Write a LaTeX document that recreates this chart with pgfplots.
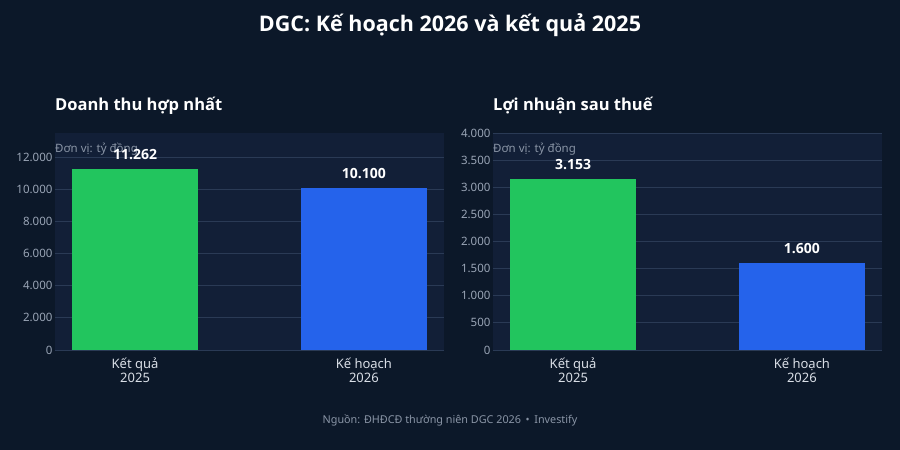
\documentclass[border=0pt]{standalone}
\usepackage{fontspec}
\setmainfont{Noto Sans}
\newfontfamily\boldsans{Open Sans}
\usepackage{pgfplots}
\pgfplotsset{compat=1.18}

\definecolor{pagebg}{HTML}{0C1829}
\definecolor{plotbg}{HTML}{121F37}
\definecolor{gridc}{HTML}{2A3A55}
\definecolor{tickc}{HTML}{9AA5B6}
\definecolor{xlabc}{HTML}{D9DEE6}
\definecolor{unitc}{HTML}{8A95A6}
\definecolor{kq}{HTML}{22C55E}
\definecolor{kh}{HTML}{2563EB}

\pgfplotsset{
  panel/.style={
    scale only axis,
    width=389pt, height=217pt,
    anchor=south west,
    xmin=-0.35, xmax=1.35,
    ymin=0,
    xtick={0,1},
    xticklabels={{Kết quả\\2025},{Kế hoạch\\2026}},
    xticklabel style={align=center, text=xlabc, font=\fontsize{13}{14}\selectfont, yshift=-4pt},
    yticklabel style={text=tickc, font=\fontsize{11.5}{12}\selectfont, xshift=1pt},
    scaled y ticks=false,
    /pgf/number format/.cd, 1000 sep={.}, assume math mode=true, /pgfplots/.cd,
    ymajorgrids,
    grid style={gridc, line width=0.8pt},
    axis line style={draw=none},
    major tick length=0pt,
    axis background/.style={fill=plotbg},
    ybar, bar shift=0pt, bar width=0.55,
    nodes near coords,
    every node near coord/.append style={text=white, font=\boldsans\bfseries\fontsize{14}{15}\selectfont, anchor=south, inner sep=0pt, yshift=9pt},
    title style={at={(0,1)}, anchor=base west, inner sep=0pt, yshift=16pt, text=white, font=\boldsans\bfseries\fontsize{16.5}{18}\selectfont},
  },
}

\begin{document}
\begin{tikzpicture}
\fill[pagebg] (0,0) rectangle (900pt,450pt);

\begin{axis}[panel, at={(55pt,100pt)}, ymax=13515,
  ytick={0,2000,4000,6000,8000,10000,12000},
  title={Doanh thu hợp nhất}]
  \addplot[draw=none, fill=kq] coordinates {(0,11262)};
  \addplot[draw=none, fill=kh] coordinates {(1,10100)};
  \node[anchor=base west, inner sep=0pt, text=unitc, font=\fontsize{11.5}{12}\selectfont] at (rel axis cs:0,1) [yshift=-20pt] {Đơn vị: tỷ đồng};
\end{axis}

\begin{axis}[panel, at={(493pt,100pt)}, ymax=4000,
  ytick={0,500,1000,1500,2000,2500,3000,3500,4000},
  title={Lợi nhuận sau thuế}]
  \addplot[draw=none, fill=kq] coordinates {(0,3153)};
  \addplot[draw=none, fill=kh] coordinates {(1,1600)};
  \node[anchor=base west, inner sep=0pt, text=unitc, font=\fontsize{11.5}{12}\selectfont] at (rel axis cs:0,1) [yshift=-20pt] {Đơn vị: tỷ đồng};
\end{axis}

\node[anchor=base, text=white, font=\boldsans\bfseries\fontsize{21.5}{24}\selectfont] at (450pt,418pt) {DGC: Kế hoạch 2026 và kết quả 2025};
\node[anchor=base, text=unitc, font=\fontsize{10.8}{12}\selectfont] at (450pt,27pt) {Nguồn: ĐHĐCĐ thường niên DGC 2026 \,•\, Investify};

\pgfresetboundingbox
\path (0,0) rectangle (900pt,450pt);
\end{tikzpicture}
\end{document}
